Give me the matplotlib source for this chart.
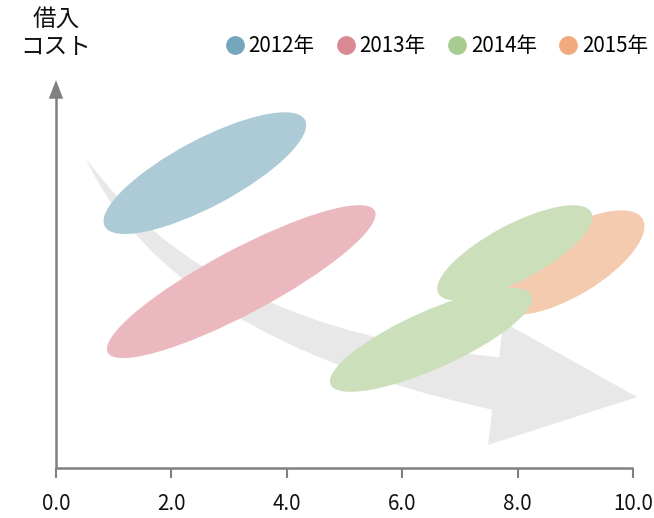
import matplotlib.pyplot as plt
from matplotlib.patches import Ellipse, PathPatch, Polygon
from matplotlib.path import Path
from matplotlib.lines import Line2D

plt.rcParams['font.family'] = ['Noto Sans CJK JP', 'DejaVu Sans']

# データ (x, y はデータ座標)
years = ['2012年', '2013年', '2014年', '2014年', '2015年']
cx = [2.58, 3.21, 6.50, 7.95, 8.90]
cy = [5.11, 3.23, 2.22, 3.73, 3.56]
widths = [3.93, 5.24, 3.81, 3.00, 2.95]
heights = [1.16, 1.12, 1.00, 0.97, 1.15]
angles = [28, 28, 24, 28, 31]

legend_years = ['2012年', '2013年', '2014年', '2015年']
dark_colors = ['#75a7bc', '#db8a94', '#a8cb8f', '#f0aa7e']
light_colors = {'2012年': '#accbd7', '2013年': '#eab8be',
                '2014年': '#cbdfbb', '2015年': '#f5cbb0'}
draw_order = [0, 1, 4, 2, 3]

xticks = [0, 2, 4, 6, 8, 10]

# 背景の矢印 (データ座標)
arrow_tail = (0.52, 5.36)
arrow_upper_ctrl = (2.70, 2.39)
arrow_notch_top = (7.68, 1.92)
arrow_barb_top = (7.75, 2.53)
arrow_tip = (10.07, 1.23)
arrow_barb_bottom = (7.49, 0.40)
arrow_notch_bottom = (7.56, 1.01)
arrow_lower_ctrl = (1.98, 2.22)


def main():
    fig = plt.figure(figsize=(6.54, 5.18), dpi=100)
    ax = fig.add_axes([56 / 654, 50 / 518, 577 / 654, 388 / 518])
    ax.set_xlim(0, 10)
    ax.set_ylim(0, 388 / 57.7)

    verts = [arrow_tail, arrow_upper_ctrl, arrow_notch_top, arrow_barb_top,
             arrow_tip, arrow_barb_bottom, arrow_notch_bottom,
             arrow_lower_ctrl, arrow_tail, arrow_tail]
    codes = [Path.MOVETO, Path.CURVE3, Path.CURVE3, Path.LINETO, Path.LINETO,
             Path.LINETO, Path.LINETO, Path.CURVE3, Path.CURVE3, Path.CLOSEPOLY]
    ax.add_patch(PathPatch(Path(verts, codes), facecolor='#e8e8e9',
                           edgecolor='none', zorder=1, clip_on=False))

    for i in draw_order:
        e = Ellipse((cx[i], cy[i]), widths[i], heights[i], angle=angles[i],
                    facecolor=light_colors[years[i]], edgecolor='none',
                    zorder=2, clip_on=False)
        ax.add_patch(e)

    # 軸
    for s in ax.spines.values():
        s.set_visible(False)
    ax.plot([0, 10], [0, 0], color='#808080', lw=1.8, zorder=3,
            clip_on=False, solid_capstyle='butt')
    ax.plot([0, 0], [0, 6.45], color='#808080', lw=1.8, zorder=3,
            clip_on=False, solid_capstyle='butt')
    ax.add_patch(Polygon([(-0.125, 6.40), (0.125, 6.40), (0, 6.724)],
                         closed=True, facecolor='#808080', edgecolor='none',
                         clip_on=False, zorder=3))
    ax.set_xticks(xticks)
    ax.set_xticklabels([f'{v:.1f}' for v in xticks])
    ax.tick_params(axis='x', length=7, width=1.5, color='#808080',
                   labelsize=14.8, pad=11, labelcolor='#111111')
    ax.set_yticks([])

    fig.text(56 / 654, 1 - 33 / 518, '借入\nコスト', ha='center', va='center',
             fontsize=17, linespacing=1.25, color='#111111')

    handles = [Line2D([], [], marker='o', linestyle='none', markersize=13.5,
                      markerfacecolor=c, markeredgecolor='none')
               for c in dark_colors]
    fig.legend(handles, legend_years, loc='center left',
               bbox_to_anchor=(226 / 654, 1 - 46 / 518), ncol=4, frameon=False,
               fontsize=14.8, handletextpad=0.2, columnspacing=1.09,
               handlelength=0.9, borderaxespad=0, borderpad=0)

    fig.savefig('out.png', dpi=100)


if __name__ == "__main__":
    main()
